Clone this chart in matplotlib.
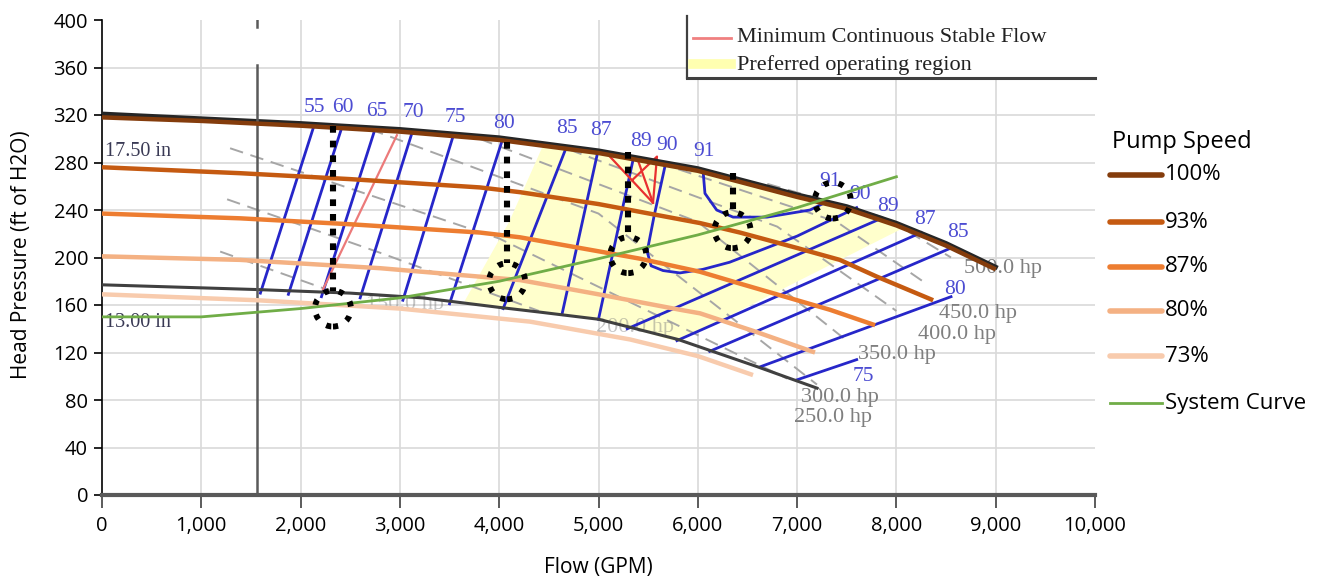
import matplotlib
matplotlib.use("Agg")
import matplotlib.pyplot as plt
from matplotlib.lines import Line2D
from matplotlib.patches import Ellipse, Rectangle

plt.rcParams['font.family'] = ['Open Sans', 'DejaVu Sans']
SERIF = ['Liberation Serif', 'DejaVu Serif']

# impeller curves (17.50 in / 13.00 in)
big_flow = [0, 1000, 2000, 3000, 4000, 5000, 6000, 6500, 7000, 7500, 8000, 8500, 9000]
big_head = [321, 317, 313, 308, 301, 290, 275, 264, 253, 243, 229, 212, 192]
small_flow = [0, 1565, 2500, 3230, 4000, 4410, 5000, 5800, 6600, 7200]
small_head = [177, 173, 170, 166, 158, 154, 148, 131, 108, 90]

# pump speed curves
speed_labels = ['100%', '93%', '87%', '80%', '73%']
speed_colors = ['#843C0C', '#C55A11', '#ED7D31', '#F4B183', '#F8CBAD']
flow_100 = [0, 1000, 2000, 3000, 4000, 5000, 6000, 6500, 7000, 7500, 8000, 8500, 9000]
head_100 = [318, 315, 311, 306, 299, 288, 273, 262, 251, 241, 227, 210, 190]
flow_93 = [0, 1390, 2500, 3807, 4210, 5000, 6022, 6425, 7000, 7430, 7800, 8370]
head_93 = [276, 271, 266, 259, 255, 245, 229, 221, 208, 198, 184, 164]
flow_87 = [0, 1390, 2500, 3807, 4210, 5418, 6022, 6425, 7330, 7785]
head_87 = [237, 233, 228, 221, 217, 199, 188, 178, 156, 143]
flow_80 = [0, 1390, 2800, 4210, 5000, 5820, 6022, 6600, 7180]
head_80 = [201, 198, 191, 181, 169, 156, 153, 137, 120]
flow_73 = [0, 1565, 3000, 4310, 5317, 6000, 6556]
head_73 = [169, 164, 157, 146, 131, 117, 101]

# system curve
sys_flow = [0, 1000, 2000, 3000, 4000, 5000, 6000, 7000, 8000]
sys_head = [150, 150, 157, 166, 180, 199, 219, 242, 268]

# efficiency contours (blue)
eff_lines = [
    ([1595, 2135], [170, 311]),
    ([1877, 2417], [169, 310]),
    ([2210, 2749], [167, 308]),
    ([2600, 3122], [166, 305]),
    ([3030, 3535], [164, 302]),
    ([3500, 4028], [161, 298]),
    ([4040, 4663], [157, 290]),
    ([4632, 4985], [152, 286]),
    ([5000, 5350], [148, 283]),
    ([5670, 5560, 5490, 5530, 5650, 5820, 6050, 6320, 7000, 7600],
     [277, 235, 205, 193, 189, 187, 190, 196, 218, 242]),
    ([6052, 6072, 6190, 6355, 6697, 7130, 7300],
     [274, 254, 240, 234, 234, 240, 247]),
    ([5290, 7850], [140, 233]),
    ([5790, 8250], [130, 221]),
    ([6120, 8550], [121, 208]),
    ([6630, 8550], [108, 167]),
    ([7000, 7600], [97, 114]),
]
eff_text = ['55', '60', '65', '70', '75', '80', '85', '87', '89', '90', '91',
            '91', '90', '89', '87', '85', '80', '75']
eff_text_x = [2135, 2427, 2769, 3132, 3555, 4048, 4683, 5025, 5428, 5690, 6063,
              7331, 7633, 7915, 8288, 8620, 8590, 7664]
eff_text_y = [326, 326, 323, 322, 318, 313, 309, 307, 298, 294, 289,
              264, 253, 243, 232, 221, 173, 100]

# horsepower lines (dashed grey)
hp_lines = [
    ([1190, 2300], [205, 172]),
    ([1260, 2800, 4400], [249, 204, 155]),
    ([1290, 4000, 6900], [292, 216, 98]),
    ([2700, 5000, 7200], [308, 237, 93]),
    ([3800, 6000, 7500], [300, 230, 130]),
    ([4700, 6800, 8000], [291, 226, 155]),
    ([5600, 7400, 8300], [280, 230, 178]),
    ([6700, 7900, 8550], [262, 233, 200]),
]
hp_text = ['150.0 hp', '200.0 hp', '250.0 hp', '300.0 hp', '350.0 hp',
           '400.0 hp', '450.0 hp', '500.0 hp']
hp_text_x = [3051, 5368, 7362, 7432, 8006, 8610, 8822, 9074]
hp_text_y = [160, 141, 65, 82, 118, 135, 153, 191]

# minimum continuous stable flow (red)
mcsf_lines = [
    ([2225, 2970], [173, 303]),
    ([5115, 5337, 5589, 5549, 5337], [285, 265, 285, 246, 265]),
    ([5388, 5549], [284, 246]),
]

# preferred operating region (yellow)
region_flow = [3650, 4100, 4450, 5000, 6000, 7000, 7500, 8000, 8050, 5800, 5000, 4410, 4000, 3650]
region_head = [163, 230, 296, 290, 275, 253, 243, 229, 224, 129, 148, 154, 158, 163]

# operating points (black dotted markers)
op_flow = [2326, 4080, 5300, 6350, 7360]
op_head = [157, 180, 202, 223, 248]
op_drop_top = [311, 297, 289, 271, None]

fig = plt.figure(figsize=(13.17, 5.82), dpi=100)
ax = fig.add_axes([102 / 1317, 87 / 582, 993 / 1317, 475 / 582])
ax.set_xlim(0, 10000)
ax.set_ylim(0, 400)

grid_c = '#d9d9d9'
for gx in range(1000, 10000, 1000):
    ax.plot([gx, gx], [0, 400], color=grid_c, lw=1.2, zorder=0)
for gy in range(40, 361, 40):
    ax.plot([0, 10000], [gy, gy], color=grid_c, lw=1.2, zorder=0)

ax.fill(region_flow, region_head, color='#FFFFCC', lw=0, zorder=1)

for (fx, hy) in hp_lines:
    ax.plot(fx, hy, color='#a6a6a6', lw=1.4, dashes=(7, 4), zorder=2)
for t, tx, ty in zip(hp_text, hp_text_x, hp_text_y):
    alpha = 0.45 if t in ('150.0 hp', '200.0 hp') else 1.0
    ax.text(tx, ty, t, fontsize=16, family=SERIF, color='#7f7f7f',
            ha='center', va='center', alpha=alpha, zorder=2)

for (fx, hy) in eff_lines:
    ax.plot(fx, hy, color='#2626c9', lw=2, zorder=3)
for t, tx, ty in zip(eff_text, eff_text_x, eff_text_y):
    ax.text(tx, ty, t, fontsize=15.5, family=SERIF, color='#4c4cd2',
            ha='center', va='center', zorder=3)

ax.plot(mcsf_lines[0][0], mcsf_lines[0][1], color='#ec7a7a', lw=1.6, zorder=3)
for (fx, hy) in mcsf_lines[1:]:
    ax.plot(fx, hy, color='#e83030', lw=1.6, zorder=3)

ax.plot(big_flow, big_head, color='#262626', lw=3.2, zorder=4)
ax.plot(small_flow, small_head, color='#404040', lw=2.2, zorder=4)
ax.text(30, 289, '17.50 in', fontsize=14.5, family=SERIF, color='#3a3a55', va='center', zorder=4)
ax.text(30, 145, '13.00 in', fontsize=14.5, family=SERIF, color='#3a3a55', va='center', zorder=4)

ax.plot([1560, 1560], [0, 362], color='#5a5a5a', lw=1.8, zorder=4)
ax.plot([1560, 1560], [394, 400], color='#5a5a5a', lw=1.8, zorder=4)

speed_flows = [flow_100, flow_93, flow_87, flow_80, flow_73]
speed_heads = [head_100, head_93, head_87, head_80, head_73]
for fx, hy, c in zip(speed_flows, speed_heads, speed_colors):
    ax.plot(fx, hy, color=c, lw=3.2, solid_capstyle='butt', zorder=5)
ax.plot(sys_flow, sys_head, color='#70AD47', lw=2, zorder=6)

# dotted markers
dot_style = dict(color='black', lw=4.4, dashes=(1.1, 1.3), zorder=7)
rx = 18 / 0.0993
ry = 18 / 1.1875
for fx, hy, top in zip(op_flow, op_head, op_drop_top):
    if top is not None:
        ax.plot([fx, fx], [top, hy + ry], **dot_style)
    ax.add_patch(Ellipse((fx, hy), 2 * rx, 2 * ry, fill=False, edgecolor='black',
                         lw=4.2, linestyle=(0, (0.9, 1.7)), zorder=7))

# legend box inside the plot
ax.add_patch(Rectangle((5891, 351), 10000 - 5891, 52, facecolor='white',
                       edgecolor='none', zorder=8, clip_on=False))
ax.plot([5891, 5891], [351, 403], color='#404040', lw=1.6, zorder=9, clip_on=False)
ax.plot([5891, 10000], [351, 351], color='#404040', lw=2.2, zorder=9, clip_on=False)
ax.plot([5952, 6330], [385, 385], color='#f08080', lw=2, zorder=9, clip_on=False)
ax.plot([5952, 6330], [363, 363], color='#ffffb0', lw=7, zorder=9, clip_on=False)
ax.text(6395, 385, 'Minimum Continuous Stable Flow', fontsize=16, family=SERIF,
        color='#222222', va='center', zorder=9, clip_on=False)
ax.text(6395, 362, 'Preferred operating region', fontsize=16, family=SERIF,
        color='#222222', va='center', zorder=9, clip_on=False)

# axes styling
for s in ['top', 'right']:
    ax.spines[s].set_visible(False)
ax.spines['left'].set_color('black')
ax.spines['left'].set_linewidth(1.2)
ax.spines['bottom'].set_color('#595959')
ax.spines['bottom'].set_linewidth(3)
ax.set_yticks(range(0, 401, 40))
ax.set_xticks(range(0, 10001, 1000))
ax.set_xticklabels([f'{v:,}' for v in range(0, 10001, 1000)])
ax.tick_params(axis='y', direction='out', length=6, width=1.2, pad=4, labelsize=14.5)
ax.tick_params(axis='x', direction='out', length=9, width=1.2, pad=6, labelsize=14.5,
               color='#404040')

fig.text(22 / 1317, 1 - 255 / 582, 'Head Pressure (ft of H2O)', rotation=90,
         ha='center', va='center', fontsize=15)
fig.text(598 / 1317, 1 - 568 / 582, 'Flow (GPM)', ha='center', va='center', fontsize=15)

# right legend
fig.text(1112 / 1317, 1 - 142 / 582, 'Pump Speed', ha='left', va='center', fontsize=17)
leg_y = [175, 222, 267, 311, 356]
for lab, c, py in zip(speed_labels, speed_colors, leg_y):
    yy = 1 - py / 582
    fig.add_artist(Line2D([1110 / 1317, 1162 / 1317], [yy, yy], color=c, lw=4,
                          solid_capstyle='round'))
    fig.text(1165 / 1317, yy, lab, ha='left', va='center', fontsize=16)
yy = 1 - 403 / 582
fig.add_artist(Line2D([1110 / 1317, 1162 / 1317], [yy, yy], color='#70AD47', lw=2))
fig.text(1165 / 1317, yy, 'System Curve', ha='left', va='center', fontsize=16)

fig.savefig('out.png', dpi=100)
